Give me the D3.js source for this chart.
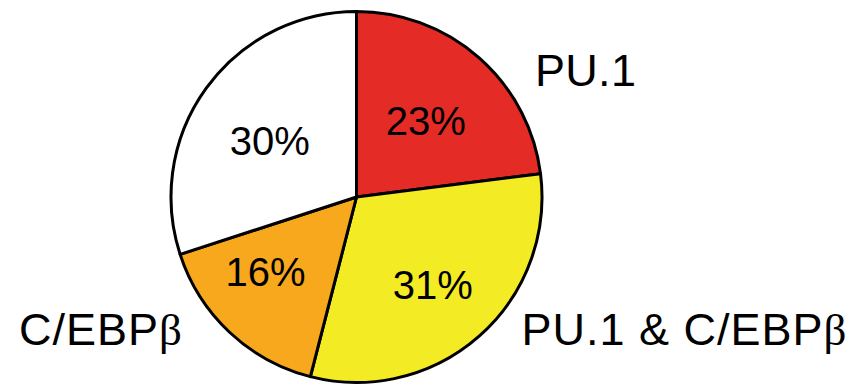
<!DOCTYPE html>
<html>
<head>
<meta charset="utf-8">
<script src="https://cdn.jsdelivr.net/npm/d3@7"></script>
<style>
  html, body { margin: 0; padding: 0; background: #fff; }
  svg { display: block; }
  text { font-family: "Liberation Sans", Arial, Helvetica, sans-serif; fill: #000; }
</style>
</head>
<body>
<svg id="chart" width="863" height="385"></svg>
<script>
// Data
const categories = ["PU.1", "PU.1 & C/EBPβ", "C/EBPβ", "Neither"];
const values = [23, 31, 16, 30];
const percentLabels = ["23%", "31%", "16%", "30%"];
const colors = ["#E52B26", "#F3EB24", "#F7A81C", "#FFFFFF"];

// Outer category label texts (main text + beta flag)
const outerTexts = ["PU.1", "PU.1 & C/EBP", "C/EBP"];
const outerBeta = [false, true, true];

// Layout (styles, not data)
const cx = 356.5, cy = 197, R = 185.5;
const labelNudge = [[-4, 7], [3, 4], [-15, -6], [3, 9]];
const outerPos = [[535, 86], [521.5, 345], [19, 345]];
const outerSpacing = [0.3, 1, 1];

const svg = d3.select("#chart");
const g = svg.append("g").attr("transform", `translate(${cx},${cy})`);

const pie = d3.pie().sort(null).value(d => d);
const arcs = pie(values);
const arc = d3.arc().innerRadius(0).outerRadius(R);
const labelArc = d3.arc().innerRadius(111).outerRadius(111);

g.selectAll("path.slice")
  .data(arcs)
  .join("path")
  .attr("class", "slice")
  .attr("d", arc)
  .attr("fill", (d, i) => colors[i])
  .attr("stroke", "#000")
  .attr("stroke-width", 3)
  .attr("stroke-linejoin", "round");

g.selectAll("text.pct")
  .data(arcs)
  .join("text")
  .attr("class", "pct")
  .attr("transform", (d, i) => {
    const c = labelArc.centroid(d);
    return `translate(${c[0] + labelNudge[i][0]},${c[1] + labelNudge[i][1]})`;
  })
  .attr("text-anchor", "middle")
  .attr("dy", "0.36em")
  .style("font-size", "40px")
  .text((d, i) => percentLabels[i]);

outerTexts.forEach((txt, i) => {
  const t = svg.append("text")
    .attr("x", outerPos[i][0])
    .attr("y", outerPos[i][1])
    .style("font-size", "45px")
    .style("letter-spacing", outerSpacing[i] + "px");
  t.append("tspan").text(txt);
  if (outerBeta[i]) {
    t.append("tspan")
      .style("font-family", "'Liberation Serif', 'DejaVu Serif', serif")
      .text("β");
  }
});
</script>
</body>
</html>
